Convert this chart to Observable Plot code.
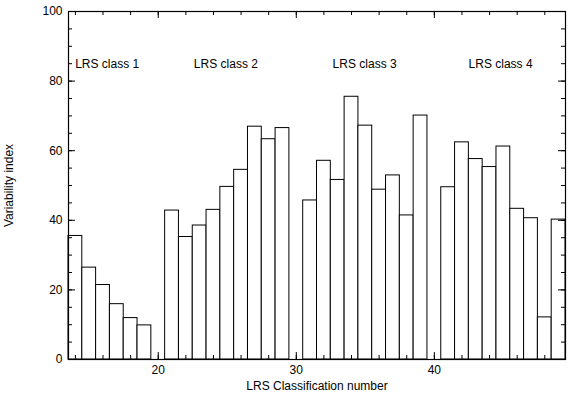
<!DOCTYPE html>
<html>
<head>
<meta charset="utf-8">
<script src="https://cdn.jsdelivr.net/npm/d3@7"></script>
<script src="https://cdn.jsdelivr.net/npm/@observablehq/plot@0.6"></script>
<style>
  html, body { margin: 0; padding: 0; background: #fff; }
</style>
</head>
<body>
<div id="chart"></div>
<script>
// LRS classification numbers (20, 30, 40 have no bar)
const classNumbers = [14, 15, 16, 17, 18, 19,
                      21, 22, 23, 24, 25, 26, 27, 28, 29,
                      31, 32, 33, 34, 35, 36, 37, 38, 39,
                      41, 42, 43, 44, 45, 46, 47, 48, 49];
// Variability index per class number
const variability = [35.5, 26.4, 21.4, 15.9, 11.9, 9.8,
                     42.8, 35.2, 38.5, 43.0, 49.6, 54.5, 66.9, 63.3, 66.5,
                     45.7, 57.1, 51.6, 75.5, 67.2, 48.8, 52.9, 41.4, 70.1,
                     49.5, 62.4, 57.6, 55.3, 61.2, 43.3, 40.6, 12.1, 40.2];
// Class annotations
const classLabels = ["LRS class 1", "LRS class 2", "LRS class 3", "LRS class 4"];
const classLabelX = [16.3, 24.9, 34.95, 44.8];
const classLabelY = [85, 85, 85, 85];
// Ticks
const xTickLabels = [20, 30, 40];
const xMinorTicks = d3.range(14, 50, 2);
const yTickLabels = [0, 20, 40, 60, 80, 100];
const yMinorTicks = d3.range(0, 101, 5);

const bars = classNumbers.map((n, i) => ({n, v: variability[i]}));
const labels = classLabels.map((t, i) => ({t, x: classLabelX[i], y: classLabelY[i]}));

const W = 570, H = 393, mt = 11, mb = 34, ml = 68, mr = 5;
const fh = H - mt - mb, fw = W - ml - mr;

const chart = Plot.plot({
  width: W,
  height: H,
  marginTop: mt,
  marginBottom: mb,
  marginLeft: ml,
  marginRight: mr,
  style: {fontFamily: "Liberation Sans, Arial, sans-serif", fontSize: "12px", background: "#fff", color: "#000"},
  x: {domain: [13.5, 49.5]},
  y: {domain: [0, 100]},
  marks: [
    Plot.rectY(bars, {x1: d => d.n - 0.5, x2: d => d.n + 0.5, y1: 0, y2: "v", fill: "white", stroke: "black", strokeWidth: 1}),
    Plot.frame({stroke: "black", strokeWidth: 1.2}),
    // inward ticks: bottom & top
    Plot.ruleX(xMinorTicks, {x: d => d, insetTop: fh - 4, stroke: "black"}),
    Plot.ruleX(xMinorTicks, {x: d => d, insetBottom: fh - 4, stroke: "black"}),
    Plot.ruleX(xTickLabels, {x: d => d, insetTop: fh - 7, stroke: "black"}),
    Plot.ruleX(xTickLabels, {x: d => d, insetBottom: fh - 7, stroke: "black"}),
    // inward ticks: left & right
    Plot.ruleY(yMinorTicks, {y: d => d, insetRight: fw - 4, stroke: "black"}),
    Plot.ruleY(yMinorTicks, {y: d => d, insetLeft: fw - 4, stroke: "black"}),
    Plot.ruleY(yTickLabels, {y: d => d, insetRight: fw - 7, stroke: "black"}),
    Plot.ruleY(yTickLabels, {y: d => d, insetLeft: fw - 7, stroke: "black"}),
    Plot.axisX(xTickLabels, {tickSize: 0, tickPadding: 6, label: "LRS Classification number", labelAnchor: "center", labelArrow: "none", labelOffset: 30}),
    Plot.axisY(yTickLabels, {tickSize: 0, tickPadding: 6, label: "Variability index", labelAnchor: "center", labelArrow: "none", labelOffset: 64}),
    Plot.text(labels, {x: "x", y: "y", text: "t", fontSize: 12, fill: "black"})
  ]
});
document.getElementById("chart").appendChild(chart);
</script>
</body>
</html>
